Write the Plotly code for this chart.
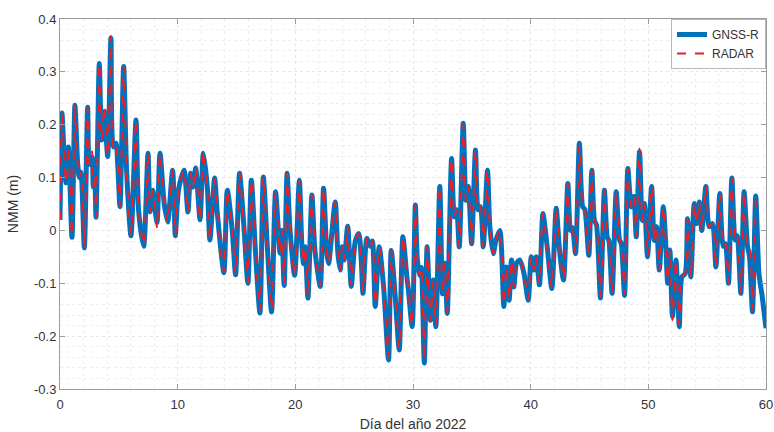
import plotly.graph_objects as go

# ---- data (day of year, sea level in m) ----
gnss_day = [0.0, 0.17, 0.35, 0.51, 0.71, 1.02, 1.27, 1.5, 1.64, 1.78, 2.07, 2.35, 2.49, 2.72, 2.83, 2.95,
            3.06, 3.34, 3.54, 3.77, 4.05, 4.33, 4.53, 4.76, 4.9, 5.1, 5.41, 5.66, 6.03, 6.46, 6.68, 7.11,
            7.48, 7.65, 7.87, 8.16, 8.25, 8.5, 8.86, 9.15, 9.57, 9.8, 9.97, 10.1, 10.54, 10.87, 11.1, 11.3,
            11.53, 11.9, 12.18, 12.52, 12.74, 13.14, 13.37, 13.93, 14.22, 14.64, 14.92, 15.26, 15.63, 15.97,
            16.26, 16.62, 16.99, 17.28, 17.62, 17.98, 18.32, 18.7, 18.85, 19.05, 19.3, 19.55, 19.94, 20.34,
            20.56, 20.7, 20.84, 21.07, 21.41, 21.64, 21.84, 22.12, 22.4, 22.68, 22.83, 23.0, 23.39, 23.62,
            23.82, 23.96, 24.15, 24.45, 24.75, 25.1, 25.4, 25.6, 25.75, 26.08, 26.37, 26.55, 26.79, 27.13,
            27.5, 27.92, 28.15, 28.49, 28.83, 29.14, 29.48, 29.62, 29.93, 30.2, 30.36, 30.55, 30.7, 30.96,
            31.2, 31.49, 31.72, 31.94, 32.28, 32.51, 32.71, 32.91, 33.28, 33.51, 33.71, 33.93, 34.27, 34.5,
            34.7, 34.98, 35.31, 35.54, 35.74, 35.97, 36.33, 36.53, 36.82, 37.05, 37.38, 37.72, 37.94, 38.17,
            38.37, 38.57, 38.8, 39.08, 39.43, 39.79, 40.05, 40.27, 40.47, 40.75, 41.04, 41.4, 41.8, 42.17,
            42.45, 42.79, 43.16, 43.39, 43.55, 43.81, 44.14, 44.42, 44.6, 44.94, 45.2, 45.42, 45.6, 45.93,
            46.27, 46.5, 46.65, 46.92, 47.27, 47.55, 47.7, 47.98, 48.26, 48.54, 48.77, 48.97, 49.25, 49.48,
            49.67, 49.93, 50.28, 50.5, 50.7, 50.93, 51.27, 51.49, 51.64, 51.83, 52.05, 52.35, 52.63, 52.85,
            53.13, 53.33, 53.61, 53.9, 54.1, 54.32, 54.54, 54.89, 55.17, 55.45, 55.74, 56.08, 56.36, 56.55,
            56.81, 57.1, 57.38, 57.55, 57.86, 58.14, 58.43, 58.6, 58.85, 59.13, 59.4, 59.69, 60.0]

gnss_val = [0.02, 0.222, 0.14, 0.09, 0.158, -0.013, 0.237, 0.127, 0.10, 0.11, -0.033, 0.233, 0.125, 0.139, 0.082, 0.105,
            0.025, 0.316, 0.171, 0.225, 0.14, 0.364, 0.158, 0.165, 0.127, 0.045, 0.31, 0.114, -0.01, 0.209, 0.038, -0.03,
            0.146, 0.035, 0.076, 0.025, 0.015, 0.146, 0.05, 0.016, 0.114, -0.01, 0.052, 0.08, 0.114, 0.035, 0.108, 0.082,
            0.118, 0.02, 0.146, 0.082, -0.018, 0.099, 0.033, -0.08, 0.076, 0.0, -0.084, 0.108, 0.007, -0.1,
            0.095, -0.043, -0.156, 0.101, -0.03, -0.154, 0.073, -0.043, 0.0, -0.104, 0.108, 0.0, -0.085, 0.095,
            -0.031, -0.063, -0.031, -0.128, 0.067, -0.031, -0.069, -0.106, 0.08, -0.044, -0.063, -0.03, 0.054, -0.044,
            -0.075, -0.031, -0.056, 0.008, -0.106, -0.02, -0.006, -0.056, -0.119, -0.015, -0.03, -0.02, -0.144, -0.031,
            -0.106, -0.245, -0.038, -0.125, -0.226, -0.012, -0.088, -0.115, -0.182, 0.048, -0.052, -0.085, -0.07, -0.251,
            -0.031, -0.17, -0.094, -0.182, 0.083, -0.12, -0.062, -0.157, 0.136, 0.026, 0.039, -0.031, 0.203, 0.057,
            0.083, -0.025, 0.152, 0.039, 0.045, -0.031, 0.114, 0.007, -0.044, -0.018, 0.0, -0.144, -0.069, -0.132,
            -0.056, -0.107, -0.062, -0.056, -0.081, -0.132, -0.05, -0.075, -0.05, -0.103, 0.032, -0.03, -0.11, 0.042,
            -0.037, -0.094, 0.089, 0.0, 0.005, -0.044, 0.165, 0.045, 0.04, -0.047, 0.114, 0.019, 0.01, -0.128,
            0.076, -0.012, -0.02, -0.119, 0.073, -0.018, -0.025, -0.123, 0.117, 0.045, 0.064, -0.012, 0.149, 0.019,
            0.051, -0.05, 0.083, -0.019, 0.007, -0.075, 0.045, -0.03, -0.1, -0.037, -0.163, -0.056, -0.182, -0.088,
            -0.082, 0.022, -0.088, 0.051, 0.013, 0.054, 0.0, 0.083, 0.007, 0.013, -0.069, 0.07, -0.03, -0.025,
            -0.1, 0.099, -0.018, -0.01, -0.119, 0.073, -0.03, -0.05, -0.154, 0.065, -0.081, -0.127, -0.185]

radar_day = gnss_day[:-3]
radar_val = [0.02, 0.222, 0.14, 0.09, 0.158, -0.01, 0.237, 0.127, 0.10, 0.11, -0.03, 0.233, 0.125, 0.15, 0.082, 0.105,
             0.025, 0.316, 0.171, 0.235, 0.14, 0.368, 0.158, 0.165, 0.127, 0.045, 0.31, 0.114, -0.008, 0.209, 0.038, -0.028,
             0.146, 0.035, 0.076, 0.025, 0.005, 0.146, 0.05, 0.016, 0.114, -0.008, 0.052, 0.08, 0.114, 0.035, 0.108, 0.082,
             0.118, 0.02, 0.15, 0.082, -0.018, 0.099, 0.033, -0.078, 0.076, 0.0, -0.082, 0.108, 0.007, -0.098,
             0.095, -0.043, -0.152, 0.101, -0.03, -0.15, 0.073, -0.043, 0.0, -0.1, 0.108, 0.0, -0.085, 0.095,
             -0.031, -0.063, -0.031, -0.125, 0.067, -0.031, -0.069, -0.104, 0.08, -0.044, -0.063, -0.03, 0.054, -0.044,
             -0.075, -0.031, -0.056, 0.008, -0.104, -0.02, -0.006, -0.056, -0.115, -0.015, -0.03, -0.02, -0.14, -0.031,
             -0.106, -0.24, -0.038, -0.125, -0.222, -0.012, -0.088, -0.115, -0.18, 0.048, -0.052, -0.085, -0.07, -0.245,
             -0.031, -0.17, -0.094, -0.18, 0.083, -0.12, -0.062, -0.155, 0.136, 0.026, 0.039, -0.031, 0.2, 0.057,
             0.083, -0.025, 0.152, 0.039, 0.045, -0.031, 0.114, 0.007, -0.044, -0.018, 0.0, -0.14, -0.069, -0.13,
             -0.056, -0.107, -0.062, -0.056, -0.081, -0.13, -0.05, -0.075, -0.05, -0.1, 0.032, -0.03, -0.108, 0.042,
             -0.037, -0.092, 0.089, 0.0, 0.005, -0.044, 0.16, 0.045, 0.04, -0.047, 0.114, 0.019, 0.01, -0.125,
             0.076, -0.012, -0.02, -0.117, 0.073, -0.018, -0.025, -0.12, 0.117, 0.045, 0.064, -0.012, 0.155, 0.019,
             0.051, -0.05, 0.083, -0.019, 0.007, -0.075, 0.045, -0.03, -0.095, -0.037, -0.17, -0.056, -0.178, -0.088,
             -0.082, 0.022, -0.088, 0.051, 0.013, 0.054, 0.0, 0.083, 0.007, 0.013, -0.069, 0.07, -0.03, -0.025,
             -0.1, 0.099, -0.018, -0.01, -0.117, 0.073, -0.03, -0.03, -0.15, 0.06]

x_ticks = [0, 10, 20, 30, 40, 50, 60]
x_tick_text = ["0", "10", "20", "30", "40", "50", "60"]
y_ticks = [-0.3, -0.2, -0.1, 0.0, 0.1, 0.2, 0.3, 0.4]
y_tick_text = ["-0.3", "-0.2", "-0.1", "0", "0.1", "0.2", "0.3", "0.4"]

FONT = "Liberation Sans, Arial, sans-serif"

fig = go.Figure()
fig.add_trace(go.Scatter(x=gnss_day, y=gnss_val, mode="lines", name="GNSS-R",
                         line=dict(color="#0072BD", width=5, shape="spline", smoothing=0.7)))
fig.add_trace(go.Scatter(x=radar_day, y=radar_val, mode="lines", name="RADAR",
                         line=dict(color="#E8202A", width=2, dash="dash", shape="spline", smoothing=0.7)))

axis_common = dict(
    showline=True, linecolor="#9a9a9a", linewidth=1, mirror="ticks",
    ticks="inside", ticklen=5, tickcolor="#9a9a9a",
    showgrid=True, gridcolor="#e6e6e6", gridwidth=1, griddash="dot",
    zeroline=False,
    tickfont=dict(family=FONT, size=13, color="#333333"),
)

fig.update_xaxes(range=[0, 60], tickvals=x_ticks, ticktext=x_tick_text, ticklabelstandoff=3,
                 minor=dict(dtick=2, showgrid=True, gridcolor="#eeeeee", griddash="dot", ticks=""),
                 title=dict(text="Día del año 2022", standoff=10,
                            font=dict(family=FONT, size=14, color="#333333")),
                 **axis_common)
fig.update_yaxes(range=[-0.3, 0.4], tickvals=y_ticks, ticktext=y_tick_text,
                 minor=dict(dtick=0.02, showgrid=True, gridcolor="#eeeeee", griddash="dot", ticks=""),
                 title=dict(text="NMM (m)", standoff=12,
                            font=dict(family=FONT, size=14, color="#333333")),
                 **axis_common)

fig.update_layout(
    width=774, height=432,
    margin=dict(l=60, r=8, t=19, b=43, autoexpand=False),
    paper_bgcolor="white", plot_bgcolor="white",
    showlegend=True,
    legend=dict(x=1, y=1, xanchor="right", yanchor="top",
                bgcolor="white", bordercolor="#b8b8b8", borderwidth=1,
                itemwidth=30, tracegroupgap=0,
                font=dict(family=FONT, size=12, color="#333333")),
)

fig.write_html("out.html", config={"displayModeBar": False},
               post_script="document.body.style.margin='0';")
